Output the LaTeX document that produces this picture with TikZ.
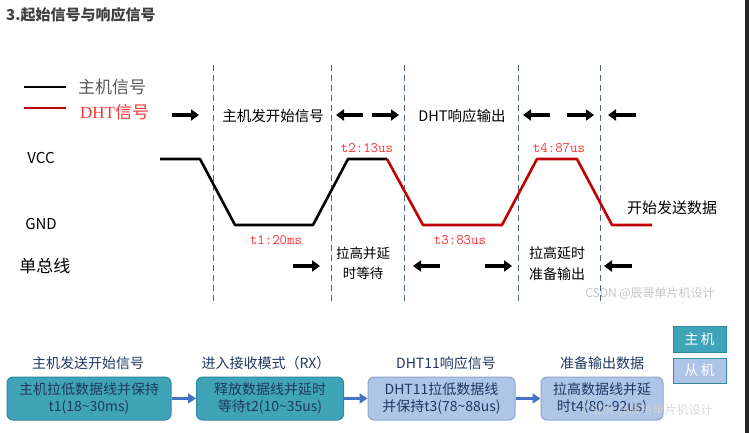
\documentclass[tikz,border=0pt]{standalone}
\usepackage{fontspec}
\setmainfont{Noto Sans CJK SC}
\newfontfamily\dhtserif{Liberation Serif}
\usetikzlibrary{arrows.meta}
\definecolor{wred}{HTML}{C00000}
\definecolor{lred}{HTML}{FF3333}
\definecolor{dashc}{HTML}{4A6290}
\definecolor{teal1}{HTML}{3FA4B8}
\definecolor{tealb}{HTML}{2E8A9C}
\definecolor{lblue}{HTML}{AFC5E8}
\definecolor{lblueb}{HTML}{8CA5C8}
\definecolor{navy}{HTML}{1F3864}
\definecolor{barrow}{HTML}{4472C4}
\definecolor{titlec}{HTML}{404040}
\begin{document}
\begin{tikzpicture}[x=1pt,y=-1pt,
  sig/.style={line width=2.6pt, line join=round},
  vdash/.style={draw=dashc, line width=1pt, dash pattern=on 6pt off 4pt},
  barr/.style={line width=3.2pt, -{Triangle[length=8pt,width=11pt]}},
  lbl/.style={font=\fontsize{14}{17}\selectfont, inner sep=0pt, align=center},
  tlbl/.style={font=\ttfamily\fontsize{14.5}{16}\selectfont, text=lred, inner sep=0pt},
  hdr/.style={font=\fontsize{14}{17}\selectfont, text=navy, inner sep=0pt},
  tbox/.style={rounded corners=6pt, draw=tealb, fill=teal1, line width=1pt, text=navy,
    align=center, font=\fontsize{14}{17}\selectfont, minimum height=43pt, inner sep=0pt},
  lbox/.style={tbox, draw=lblueb, fill=lblue},
  farr/.style={draw=barrow, line width=2.2pt, -{Triangle[length=8pt,width=10pt]}},
  wmark/.style={font=\fontsize{12}{14}\selectfont, text=gray!45, inner sep=0pt}
]
\useasboundingbox (0,0) rectangle (749,433);
\fill[white] (0,0) rectangle (749,433);
\fill[black!85] (745,0) rectangle (749,433);

% title
\node[font=\bfseries\fontsize{15}{17}\selectfont, text=titlec, anchor=west, inner sep=0pt] (title) at (6,15) {3.起始信号与响应信号};

% legend
\coordinate (lb1) at (24,87); \coordinate (lb2) at (66,87);
\coordinate (lr1) at (24,108); \coordinate (lr2) at (66,108);
\draw[line width=2.6pt] (lb1) -- (lb2);
\draw[line width=2.6pt, wred] (lr1) -- (lr2);
\node[font=\fontsize{17}{19}\selectfont, text=black!65, anchor=west, inner sep=0pt] (legm) at (78,87) {主机信号};
\node[font=\fontsize{17}{19}\selectfont, text=lred, anchor=west, inner sep=0pt] (legd) at (80,112) {{\dhtserif DHT}信号};

% level labels
\node[font=\fontsize{15}{17}\selectfont, inner sep=0pt] (vcc) at (41,158) {VCC};
\node[font=\fontsize{15}{17}\selectfont, inner sep=0pt] (gnd) at (41,224) {GND};
\node[font=\fontsize{17}{19}\selectfont, inner sep=0pt] (bus) at (45,266) {单总线};

% dashed separators
\foreach \x/\n in {213/a,331/b,404/c,518/d,600/e} {
  \coordinate (d\n1) at (\x,65); \coordinate (d\n2) at (\x,305);
  \draw[vdash] (d\n1) -- (d\n2);
}

% waveform
\coordinate (w0) at (160,159); \coordinate (w1) at (200,159);
\coordinate (w2) at (235,225); \coordinate (w3) at (313,225);
\coordinate (w4) at (348,159); \coordinate (w5) at (387,159);
\coordinate (w6) at (423,225); \coordinate (w7) at (502,225);
\coordinate (w8) at (537,159); \coordinate (w9) at (577,159);
\coordinate (w10) at (612,225); \coordinate (w11) at (652,225);
\draw[sig] (w0) -- (w1) -- (w2) -- (w3) -- (w4) -- (w5);
\draw[sig, wred] (w5) -- (w6) -- (w7) -- (w8) -- (w9) -- (w10) -- (w11);

% time labels
\node[tlbl] (t2) at (367,148) {t2:13us};
\node[tlbl] (t4) at (559,148) {t4:87us};
\node[tlbl] (t1) at (276,240) {t1:20ms};
\node[tlbl] (t3) at (460,240) {t3:83us};

% upper row
\node[lbl, font=\fontsize{14.5}{17}\selectfont] (sendlbl) at (273,116) {主机发开始信号};
\node[lbl, font=\fontsize{14.5}{17}\selectfont] (resplbl) at (462,116) {DHT响应输出};
\draw[barr] (172,115) -- (199,115);
\draw[barr] (363,115) -- (336,115);
\draw[barr] (372,115) -- (399,115);
\draw[barr] (550,115) -- (523,115);
\draw[barr] (567,115) -- (594,115);
\draw[barr] (636,115) -- (608,115);
\node[lbl, font=\fontsize{15}{17}\selectfont] (startdata) at (672,208) {开始发送数据};

% lower row
\node[lbl, font=\fontsize{13.5}{20}\selectfont] (pull1) at (363,263) {拉高并延\\时等待};
\node[lbl, font=\fontsize{14}{21}\selectfont] (pull2) at (557,264) {拉高延时\\准备输出};
\draw[barr] (293,266) -- (320,266);
\draw[barr] (440,266) -- (413,266);
\draw[barr] (485,266) -- (512,266);
\draw[barr] (632,266) -- (604,266);

% watermark 1
\node[wmark] (wm1) at (650,293) {CSDN @辰哥单片机设计};

% bottom flow
\node[hdr] (h1) at (88,363) {主机发送开始信号};
\node[hdr] (h2) at (266,363) {进入接收模式（RX）};
\node[hdr] (h3) at (446,363) {DHT11响应信号};
\node[hdr] (h4) at (602,363) {准备输出数据};
\node[tbox, minimum width=164pt] (b1) at (89,398.5) {主机拉低数据线并保持\\t1(18\textasciitilde30ms)};
\node[tbox, minimum width=147pt] (b2) at (270,398.5) {释放数据线并延时\\等待t2(10\textasciitilde35us)};
\node[lbox, minimum width=147pt] (b3) at (441.5,398.5) {DHT11拉低数据线\\并保持t3(78\textasciitilde88us)};
\node[lbox, minimum width=122pt] (b4) at (602,398.5) {拉高数据线并延\\时t4(80\textasciitilde92us)};
\draw[farr] (b1) -- (b2);
\draw[farr] (b2) -- (b3);
\draw[farr] (b3) -- (b4);

% key boxes
\node[draw=tealb, fill=teal1, line width=1pt, text=white, minimum width=53pt, minimum height=26pt, inner sep=0pt, font=\fontsize{14}{16}\selectfont] (km) at (699.5,339) {主\,机};
\node[draw=tealb, fill=lblue, line width=1pt, text=white, minimum width=53pt, minimum height=25pt, inner sep=0pt, font=\fontsize{14}{16}\selectfont] (ks) at (699.5,370.5) {从\,机};

% watermark 2 (overlaps the last box, as in the reference)
\node[wmark, text=gray!35, opacity=0.8] (wm2) at (648,410) {CSDN @辰哥单片机设计};
\end{tikzpicture}
\end{document}
